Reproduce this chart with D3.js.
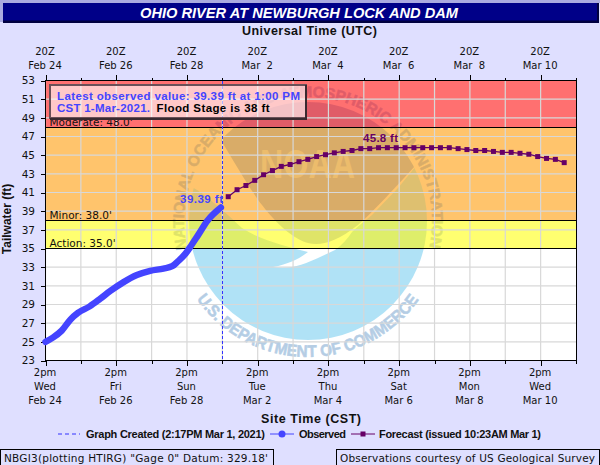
<!DOCTYPE html>
<html>
<head>
<meta charset="utf-8">
<title>Ohio River at Newburgh Lock and Dam</title>
<script src="https://cdn.jsdelivr.net/npm/d3@7"></script>
<style>
    html, body { margin: 0; padding: 0; background: #dfdfff; }
    svg { display: block; }
    text { font-family: "DejaVu Sans", sans-serif; font-size: 10px; fill: #111; }
    .bold { font-family: "Liberation Sans", Arial, sans-serif; font-weight: bold; }
    .tick-axis path { display: none; }
    .tick-axis line { stroke: #000; shape-rendering: crispEdges; }
</style>
</head>
<body>
<svg id="chart" width="600" height="465"></svg>
<script>
// hours after 2pm CST Feb 24 2021
const obsHours = [0, 5, 11, 17, 22, 30, 37, 44, 53, 62, 71, 80, 86, 90, 95, 99, 103, 110, 119];
const obsStage = [25.0, 25.45, 26.2, 27.4, 28.1, 28.8, 29.6, 30.45, 31.4, 32.15, 32.6, 32.85, 33.1, 33.65, 34.45, 35.35, 36.3, 38.0, 39.39];

const fcstHours = [124, 130, 136, 142, 148, 154, 160, 166, 172, 178, 184, 190, 196, 202, 208, 214, 220, 226, 232, 238,
    244, 250, 256, 262, 268, 274, 280, 286, 292, 298, 304, 310, 316, 322, 328, 334, 340, 346, 352];
const fcstStage = [40.55, 41.3, 41.75, 42.3, 42.9, 43.35, 43.8, 44.0, 44.3, 44.55, 44.85, 45.05, 45.25, 45.4, 45.5, 45.7, 45.7, 45.8, 45.8, 45.8,
    45.8, 45.8, 45.8, 45.8, 45.8, 45.8, 45.7, 45.6, 45.5, 45.5, 45.4, 45.3, 45.3, 45.2, 45.1, 44.85, 44.65, 44.55, 44.2];

const createdHour = 120.3;

const majorHours = [0, 48, 96, 144, 192, 240, 288, 336];
const minorHours = [24, 72, 120, 168, 216, 264, 312, 360];
const utcTop = ['20Z', '20Z', '20Z', '20Z', '20Z', '20Z', '20Z', '20Z'];
const utcDates = ['Feb 24', 'Feb 26', 'Feb 28', 'Mar  2', 'Mar  4', 'Mar  6', 'Mar  8', 'Mar 10'];
const siteTimes = ['2pm', '2pm', '2pm', '2pm', '2pm', '2pm', '2pm', '2pm'];
const siteDays = ['Wed', 'Fri', 'Sun', 'Tue', 'Thu', 'Sat', 'Mon', 'Wed'];
const siteDates = ['Feb 24', 'Feb 26', 'Feb 28', 'Mar 2', 'Mar 4', 'Mar 6', 'Mar 8', 'Mar 10'];
const stageTicks = [23, 25, 27, 29, 31, 33, 35, 37, 39, 41, 43, 45, 47, 49, 51, 53];

const floodLevels = [53, 48, 38, 35, 23];
const bandColors = ['#ff7070', '#ffc46c', '#ffff70', '#ffffff'];
const logoDark = ['#e05c68', '#d9ac68', '#dfe468', '#b5cde4'];
const logoBlue = ['#e05c68', '#dec070', '#deee6a', '#b0e2f6'];
const floodLabels = ["Moderate: 48.0'", "Minor: 38.0'", "Action: 35.0'"];

const blue = '#4444ff';
const purple = '#660066';

const svg = d3.select('#chart');
const x = d3.scaleLinear().domain([0, 360]).range([45.5, 576]);
const y = d3.scaleLinear().domain([23, 53]).range([360.5, 80.5]);

// title bar
svg.append('rect').attr('x', 0).attr('y', 0).attr('width', 600).attr('height', 3).attr('fill', '#aaaae0');
svg.append('rect').attr('x', 0).attr('y', 0).attr('width', 3).attr('height', 22).attr('fill', '#aaaae0');
svg.append('rect').attr('x', 3).attr('y', 3).attr('width', 596).attr('height', 20).attr('fill', '#000040');
svg.append('rect').attr('x', 3).attr('y', 3).attr('width', 594).attr('height', 17.5).attr('fill', '#000088');
svg.append('text').attr('class', 'bold').attr('x', 140).attr('y', 18)
    .attr('textLength', 318).attr('lengthAdjust', 'spacingAndGlyphs')
    .style('font-size', '15.5px').style('font-style', 'italic').style('fill', '#fff')
    .text('OHIO RIVER AT NEWBURGH LOCK AND DAM');

svg.append('text').attr('class', 'bold').attr('x', 242).attr('y', 34.5)
    .attr('textLength', 135).style('font-size', '12.5px')
    .text('Universal Time (UTC)');
svg.append('text').attr('class', 'bold').attr('x', 261).attr('y', 423)
    .attr('textLength', 100).style('font-size', '12.5px')
    .text('Site Time (CST)');
svg.append('text').attr('class', 'bold').attr('transform', 'translate(11,219) rotate(-90)')
    .attr('text-anchor', 'middle').style('font-size', '12px')
    .text('Tailwater (ft)');

// flood bands
floodLevels.slice(0, -1).forEach((level, i) => {
    svg.append('rect')
        .attr('x', x(0)).attr('width', x(360) - x(0))
        .attr('y', y(level)).attr('height', y(floodLevels[i + 1]) - y(level))
        .attr('fill', bandColors[i]);
});

// gradients with hard stops so the logo changes colour at each band
const defs = svg.append('defs');
function bandGradient(id, colors) {
    let grad = defs.append('linearGradient').attr('id', id)
        .attr('gradientUnits', 'userSpaceOnUse')
        .attr('x1', 0).attr('x2', 0).attr('y1', y(53)).attr('y2', y(23));
    colors.forEach((c, i) => {
        grad.append('stop').attr('offset', (y(floodLevels[i]) - y(53)) / (y(23) - y(53))).attr('stop-color', c);
        grad.append('stop').attr('offset', (y(floodLevels[i + 1]) - y(53)) / (y(23) - y(53))).attr('stop-color', c);
    });
}
bandGradient('gradDark', logoDark);
bandGradient('gradBlue', logoBlue);

// NOAA logo watermark
const cx = 308, cy = 221, R = 119;
defs.append('clipPath').attr('id', 'logoClip').append('circle').attr('cx', cx).attr('cy', cy).attr('r', R);
const logo = svg.append('g');
const inner = logo.append('g').attr('clip-path', 'url(#logoClip)');

inner.append('path').attr('fill', 'url(#gradDark)')
    .attr('d', 'M180,80 L222,142 C232,158 250,190 262,205 C272,218 290,238 308,243 C320,246 335,243 358,225 C372,213 395,188 425,155 L440,80 Z');

inner.append('path').attr('fill', 'url(#gradBlue)')
    .attr('d', 'M180,178 L192,187 C205,194 225,212 242,228 C260,240 285,246 308,252 C300,258 290,264 273,267 C290,270 305,264 318,258 L335,250 C342,245 348,238 352,232 C358,226 365,221 372,215 L398,188 L425,155 L445,150 L445,350 L180,350 Z');

logo.append('text').attr('x', 260).attr('y', 178)
    .attr('class', 'bold')
    .attr('textLength', 95).attr('lengthAdjust', 'spacingAndGlyphs')
    .style('font-size', '40px').style('fill', '#ecbc6c')
    .text('NOAA');

// ring lettering
function polar(r, deg) {
    let a = deg * Math.PI / 180;
    return [cx + r * Math.cos(a), cy + r * Math.sin(a)];
}
let a0 = polar(124, 167), a1 = polar(124, 13);
defs.append('path').attr('id', 'ringTop')
    .attr('d', `M${a0[0]},${a0[1]} A124,124 0 1 1 ${a1[0]},${a1[1]}`);
let b0 = polar(136, 145), b1 = polar(136, 35);
defs.append('path').attr('id', 'ringBottom')
    .attr('d', `M${b0[0]},${b0[1]} A136,136 0 0 0 ${b1[0]},${b1[1]}`);

logo.append('text').attr('class', 'bold').style('font-size', '15.5px')
    .style('fill', 'url(#gradDark)').style('stroke', 'url(#gradDark)').style('stroke-width', 0.5)
    .append('textPath').attr('href', '#ringTop').attr('textLength', 444).attr('lengthAdjust', 'spacingAndGlyphs')
    .text('NATIONAL OCEANIC AND ATMOSPHERIC ADMINISTRATION');
logo.append('text').attr('class', 'bold').style('font-size', '16.5px')
    .style('fill', 'url(#gradDark)').style('stroke', 'url(#gradDark)').style('stroke-width', 0.6)
    .append('textPath').attr('href', '#ringBottom').attr('textLength', 260).attr('lengthAdjust', 'spacingAndGlyphs')
    .text('U.S. DEPARTMENT OF COMMERCE');

// grid
const grid = svg.append('g').attr('stroke', '#d8d8d8').attr('stroke-width', 1.2);
grid.selectAll('.v').data(majorHours.concat(minorHours.slice(0, -1))).enter().append('line')
    .attr('x1', d => x(d)).attr('x2', d => x(d)).attr('y1', y(53)).attr('y2', y(23));
grid.selectAll('.h').data(stageTicks.slice(1, -1)).enter().append('line')
    .attr('x1', x(0)).attr('x2', x(360)).attr('y1', d => y(d)).attr('y2', d => y(d));

// flood stage lines
svg.selectAll('.flood').data(floodLevels.slice(1, -1)).enter().append('line')
    .attr('x1', x(0)).attr('x2', x(360)).attr('y1', d => y(d)).attr('y2', d => y(d))
    .attr('stroke', '#000').attr('stroke-width', 1).attr('shape-rendering', 'crispEdges');
svg.selectAll('.floodLabel').data(floodLabels).enter().append('text')
    .attr('x', 49.5).attr('y', (d, i) => y(floodLevels[i + 1]) - 1.5)
    .style('font-size', '10.5px')
    .text(d => d);

// frame and axes
svg.append('rect').attr('x', x(0)).attr('y', y(53)).attr('width', x(360) - x(0)).attr('height', y(23) - y(53))
    .attr('fill', 'none').attr('stroke', '#000').attr('shape-rendering', 'crispEdges');

function tickAxis(axis, offset) {
    let g = svg.append('g').attr('class', 'tick-axis').attr('transform', offset).call(axis);
    g.selectAll('text').remove();
}
tickAxis(d3.axisTop(x).tickValues(majorHours).tickSize(6), `translate(0,${y(53)})`);
tickAxis(d3.axisTop(x).tickValues(minorHours).tickSize(3), `translate(0,${y(53)})`);
tickAxis(d3.axisBottom(x).tickValues(majorHours).tickSize(5), `translate(0,${y(23)})`);
tickAxis(d3.axisBottom(x).tickValues(minorHours).tickSize(3), `translate(0,${y(23)})`);

const yAxis = svg.append('g').attr('class', 'tick-axis').attr('transform', `translate(${x(0)},0)`)
    .call(d3.axisLeft(y).tickValues(stageTicks).tickSize(5).tickPadding(5.5).tickFormat(d3.format('d')));
yAxis.selectAll('text').style('font-size', '10.5px').style('font-family', '"DejaVu Sans"').style('fill', '#111');

function tickRow(labels, baseline) {
    svg.selectAll(null).data(labels).enter().append('text')
        .attr('x', (d, i) => x(majorHours[i]) - 0.5)
        .attr('y', baseline)
        .attr('text-anchor', 'middle')
        .style('white-space', 'pre')
        .text(d => d);
}
tickRow(utcTop, 55);
tickRow(utcDates, 69);
tickRow(siteTimes, 375.5);
tickRow(siteDays, 389.5);
tickRow(siteDates, 403.5);

// graph created line
svg.append('line').attr('x1', x(createdHour)).attr('x2', x(createdHour)).attr('y1', y(53)).attr('y2', y(23))
    .attr('stroke', '#3333ff').attr('stroke-dasharray', '3,2').attr('shape-rendering', 'crispEdges');

// observed
const obsLine = d3.line().x((d, i) => x(obsHours[i])).y(d => y(d)).curve(d3.curveMonotoneX);
svg.append('path').datum(obsStage).attr('d', obsLine)
    .attr('fill', 'none').attr('stroke', blue).attr('stroke-width', 6.5).attr('stroke-linecap', 'round');

// forecast
const fcstLine = d3.line().x((d, i) => x(fcstHours[i])).y(d => y(d));
svg.append('path').datum(fcstStage).attr('d', fcstLine)
    .attr('fill', 'none').attr('stroke', purple).attr('stroke-width', 1.3);
svg.selectAll('.fc').data(fcstStage).enter().append('rect')
    .attr('x', (d, i) => x(fcstHours[i]) - 2.5).attr('y', d => y(d) - 2.5)
    .attr('width', 5).attr('height', 5).attr('fill', purple);

svg.append('text').attr('class', 'bold').attr('x', 180).attr('y', 202.5)
    .attr('textLength', 43).style('font-size', '11.5px').style('fill', blue)
    .text('39.39 ft');
svg.append('text').attr('class', 'bold').attr('x', 363).attr('y', 142)
    .attr('textLength', 35).style('font-size', '11.5px').style('fill', purple)
    .text('45.8 ft');

// latest value box
svg.append('rect').attr('x', 50).attr('y', 85).attr('width', 256).attr('height', 33)
    .attr('fill', 'rgba(255,255,255,0.62)').attr('stroke', '#6a5058').attr('stroke-width', 2);
svg.append('path').attr('d', 'M306,85 V119 H50').attr('fill', 'none').attr('stroke', '#3a2a30').attr('stroke-width', 2);
svg.append('text').attr('class', 'bold').attr('x', 57).attr('y', 100)
    .attr('textLength', 243).style('font-size', '11.5px').style('fill', blue)
    .text('Latest observed value: 39.39 ft at 1:00 PM');
svg.append('text').attr('class', 'bold').attr('x', 57).attr('y', 111.5)
    .attr('textLength', 93).style('font-size', '11.5px').style('fill', blue)
    .text('CST 1-Mar-2021.');
svg.append('text').attr('class', 'bold').attr('x', 156.5).attr('y', 111.5)
    .attr('textLength', 113).style('font-size', '11.5px').style('fill', '#000')
    .text('Flood Stage is 38 ft');

// legend
const legendY = 434;
svg.append('line').attr('x1', 58).attr('x2', 80).attr('y1', legendY).attr('y2', legendY)
    .attr('stroke', '#3333ff').attr('stroke-dasharray', '4,3');
svg.append('line').attr('x1', 270).attr('x2', 294).attr('y1', legendY).attr('y2', legendY).attr('stroke', blue);
svg.append('circle').attr('cx', 282).attr('cy', legendY).attr('r', 3.5).attr('fill', blue);
svg.append('line').attr('x1', 351).attr('x2', 375).attr('y1', legendY).attr('y2', legendY).attr('stroke', purple);
svg.append('rect').attr('x', 360.5).attr('y', legendY - 2.5).attr('width', 5).attr('height', 5).attr('fill', purple);

const legendText = [['Graph Created (2:17PM Mar 1, 2021)', 86, 179], ['Observed', 299, 47], ['Forecast (issued 10:23AM Mar 1)', 379, 162]];
legendText.forEach(l => {
    svg.append('text').attr('class', 'bold').attr('x', l[1]).attr('y', legendY + 4)
        .attr('textLength', l[2]).style('font-size', '11px').style('fill', '#111')
        .text(l[0]);
});

// footer boxes
svg.append('rect').attr('x', 0.5).attr('y', 449.5).attr('width', 273).attr('height', 20)
    .attr('fill', 'none').attr('stroke', '#000');
svg.append('text').attr('x', 4).attr('y', 462).attr('textLength', 264).style('font-size', '10.5px')
    .text('NBGI3(plotting HTIRG) "Gage 0" Datum: 329.18\'');
svg.append('rect').attr('x', 336.5).attr('y', 449.5).attr('width', 263).attr('height', 20)
    .attr('fill', 'none').attr('stroke', '#000');
svg.append('text').attr('x', 340).attr('y', 462).attr('textLength', 255).style('font-size', '10.5px')
    .text('Observations courtesy of US Geological Survey');
</script>
</body>
</html>
